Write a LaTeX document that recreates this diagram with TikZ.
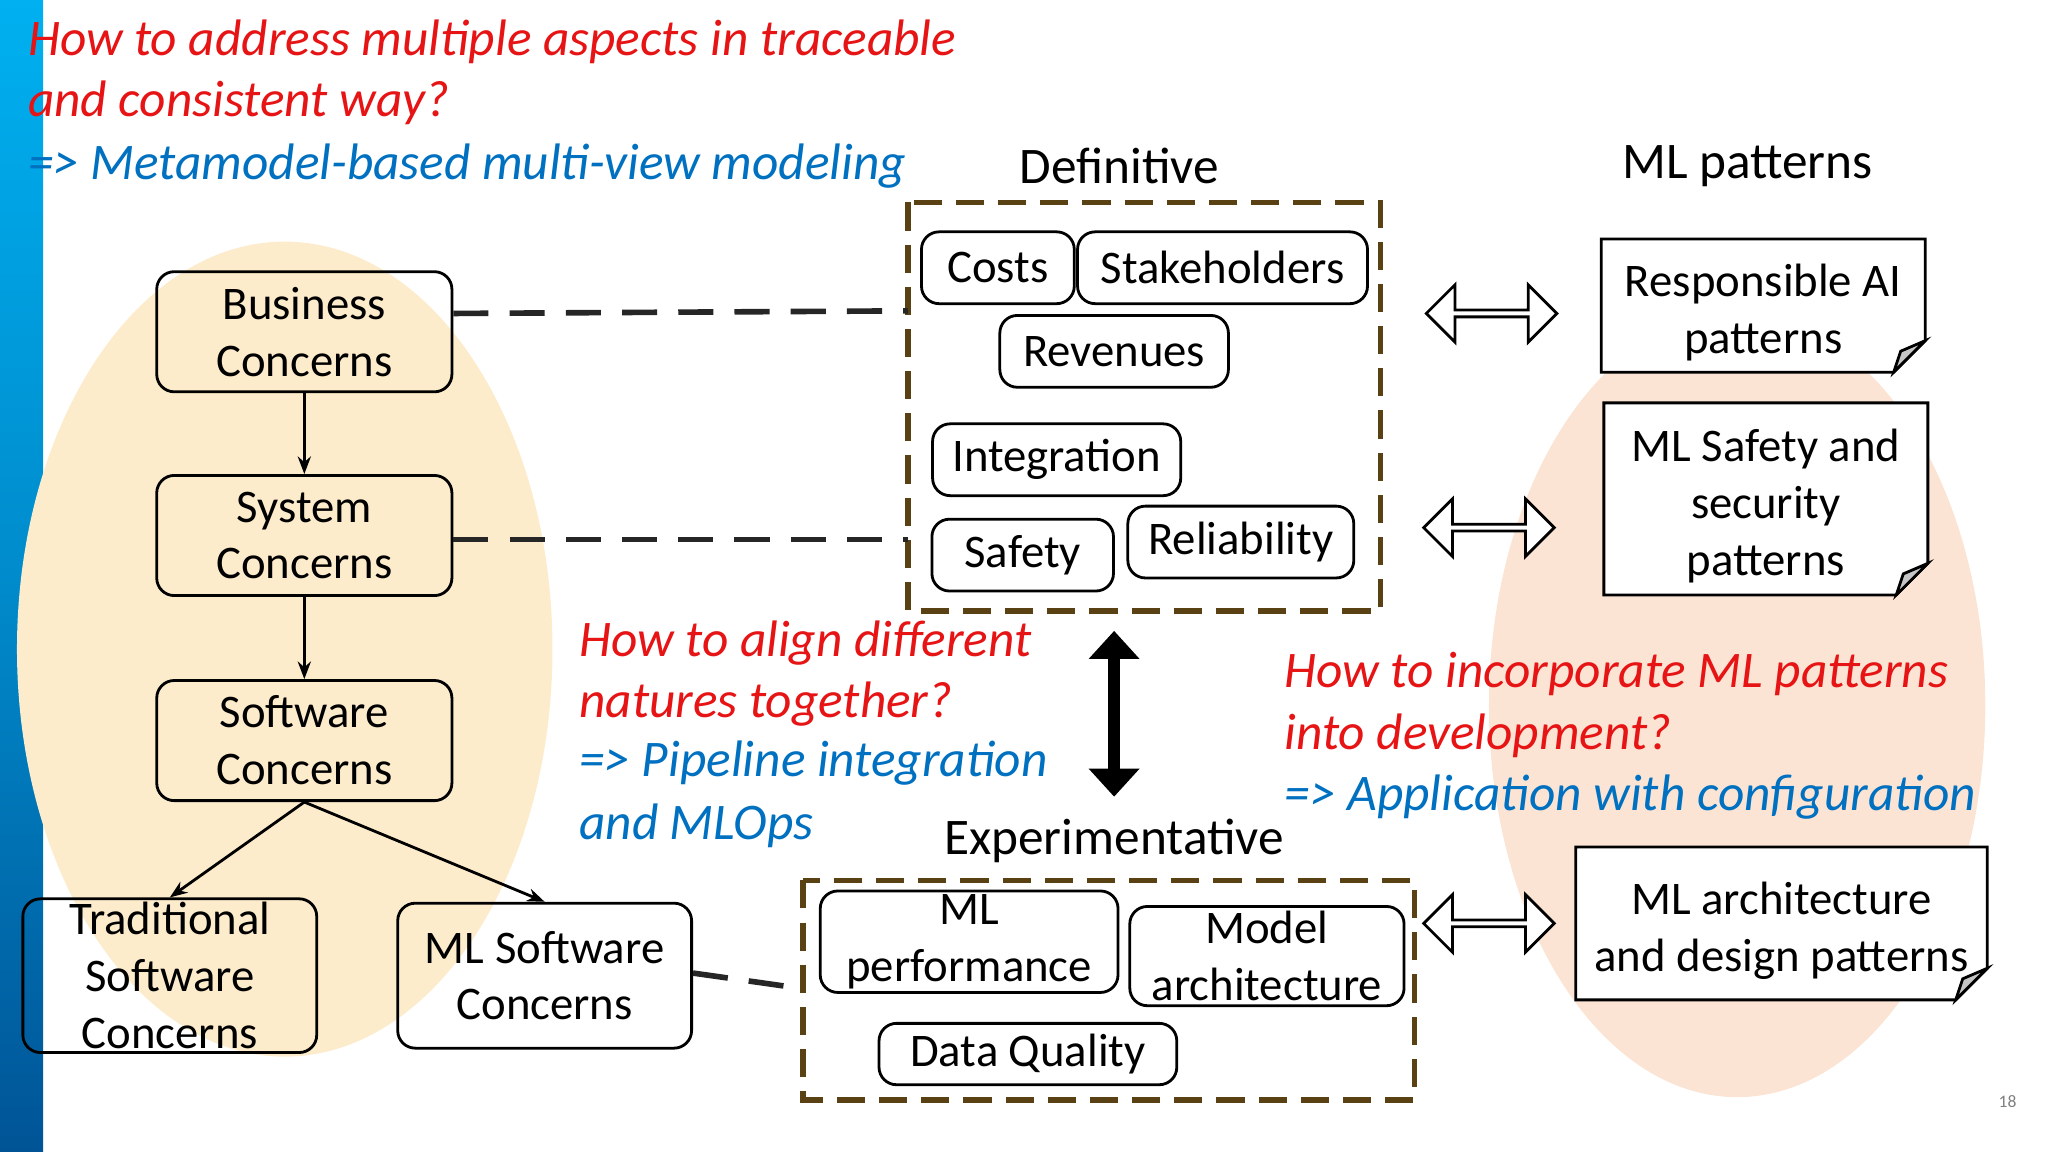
\documentclass[tikz,border=0pt]{standalone}
\usepackage{fontspec}
\setmainfont{Carlito}
\usetikzlibrary{shapes.arrows,arrows.meta}
\definecolor{qred}{RGB}{230,20,20}
\definecolor{qblue}{RGB}{0,112,192}
\definecolor{dbrown}{RGB}{90,65,20}
\definecolor{lyellow}{RGB}{253,236,204}
\definecolor{lpeach}{RGB}{251,228,212}
\definecolor{bartop}{RGB}{0,176,240}
\definecolor{barbot}{RGB}{0,84,150}
\def\un{0.01306cm}
\newcommand{\notefold}[1]{%
  \draw[thick, fill=white] (#1.south west) -- (#1.north west) -- (#1.north east)
    -- ([yshift=9pt]#1.south east) -- ([xshift=-9pt]#1.south east) -- cycle;
  \draw[thick, fill=gray!45] ([yshift=9pt]#1.south east) -- ([xshift=-7pt,yshift=6pt]#1.south east)
    -- ([xshift=-9pt]#1.south east) -- cycle;}
\tikzset{
  box/.style={draw, rounded corners=5pt, thick, align=center, inner sep=1pt,
    font=\fontsize{13.3}{16.2}\selectfont},
  sz/.style 2 args={minimum width=#1*\un, minimum height=#2*\un},
  note/.style={align=center, inner sep=1pt, font=\fontsize{13.3}{16.2}\selectfont},
  frame/.style={draw=dbrown, line width=1.6pt, dash pattern=on 8pt off 4pt},
  link/.style={line width=1.6pt, dash pattern=on 10pt off 6pt, draw=black!85},
  hollow/.style={draw, thick, double arrow, double arrow head extend=3pt,
    minimum height=100*\un, minimum width=44*\un, inner sep=0pt, fill=white},
  q/.style={anchor=west, font=\fontsize{14.6}{18}\selectfont\itshape},
  head/.style={font=\fontsize{14.6}{18}\selectfont},
}
\begin{document}
\begin{tikzpicture}[x=0.01306cm, y=-0.01306cm]
\useasboundingbox (0,0) rectangle (1568,882);
% background
\shade[top color=bartop, bottom color=barbot, middle color=bartop!60!barbot] (0,0) rectangle (33,882);
\fill[lyellow] (218,497) ellipse [x radius=205, y radius=312];
\fill[lpeach] (1330,540) ellipse [x radius=190, y radius=300];

% concern hierarchy
\node[box, sz={226}{92}] (bus) at (233,254) {Business\\Concerns};
\node[box, sz={226}{92}] (sys) at (233,410) {System\\Concerns};
\node[box, sz={226}{92}] (sw) at (233,567) {Software\\Concerns};
\node[box, sz={225}{111}] (trad) at (130,747) {Traditional\\Software\\Concerns};
\node[box, sz={225}{111}] (mlsw) at (417,747) {ML Software\\Concerns};
\draw[-{Stealth[length=5pt]}, thick] (bus) -- (sys);
\draw[-{Stealth[length=5pt]}, thick] (sys) -- (sw);
\draw[-{Stealth[length=5pt]}, thick] (sw.south) -- (trad.north);
\draw[-{Stealth[length=5pt]}, thick] (sw.south) -- (mlsw.north);

% definitive
\node[head] at (857,127) {Definitive};
\draw[frame] (695,155) rectangle (1057,468);
\node[box, sz={117}{55}] (costs) at (764,205) {Costs};
\node[box, sz={222}{55}] (stake) at (936,205) {Stakeholders};
\node[box, sz={175}{55}] (rev) at (853,269) {Revenues};
\node[box, sz={190}{55}] (integ) at (809,352) {Integration};
\node[box, sz={139}{55}] (safe) at (783,425) {Safety};
\node[box, sz={173}{55}] (rel) at (950,415) {Reliability};
\coordinate (defbus) at (695,238);
\coordinate (defsys) at (695,413);
\draw[link] (bus.east |- 0,240) -- (defbus);
\draw[link] (sys.east |- 0,413) -- (defsys);

% experimentative
\node[head] at (853,644) {Experimentative};
\draw[frame] (615,674) rectangle (1083,842);
\node[box, sz={228}{67}] (mlperf) at (742,721) {ML\\performance};
\node[box, sz={210}{76}] (march) at (970,732) {Model\\architecture};
\node[box, sz={228}{47}] (dq) at (787,807) {Data Quality};
\coordinate (expsw) at (615,757);
\draw[link] (mlsw.east |- 0,745) -- (expsw);

\coordinate (vtop) at (853,483);
\coordinate (vbot) at (853,610);
\draw[{Triangle[length=8pt,width=14pt]}-{Triangle[length=8pt,width=14pt]}, line width=3.5pt] (vtop) -- (vbot);

% patterns
\node[head] at (1338,127) {ML patterns};
\path (1350,234) coordinate (respc) (1352,382) coordinate (safpc) (1364,707) coordinate (archpc);
\node[note, sz={247}{101}] (resp) at (respc) {\phantom{x}};
\node[note, sz={247}{146}] (safp) at (safpc) {\phantom{x}};
\node[note, sz={314}{116}] (archp) at (archpc) {\phantom{x}};
\notefold{resp}\notefold{safp}\notefold{archp}
\node[note] at ([yshift=-2pt]resp) {Responsible AI\\patterns};
\node[note] at ([yshift=-2pt]safp) {ML Safety and\\security\\patterns};
\node[note] at ([yshift=-2pt]archp) {ML architecture\\and design patterns};
\node[hollow] (a1) at (1142,240) {};
\node[hollow] (a2) at (1140,404) {};
\node[hollow] (a3) at (1140,707) {};

% questions
\node[q, text=qred] at (12,32) {How to address multiple aspects in traceable};
\node[q, text=qred] at (12,79) {and consistent way?};
\node[q, text=qblue] at (12,127) {=> Metamodel-based multi-view modeling};
\node[q, text=qred] at (434,492) {How to align different};
\node[q, text=qred] at (434,539) {natures together?};
\node[q, text=qblue] at (434,584) {=> Pipeline integration};
\node[q, text=qblue] at (434,632) {and MLOps};
\node[q, text=qred] at (974,516) {How to incorporate ML patterns};
\node[q, text=qred] at (974,563) {into development?};
\node[q, text=qblue] at (974,610) {=> Application with configuration};
\node[text=gray, font=\tiny] at (1537,843) {18};
\end{tikzpicture}
\end{document}
